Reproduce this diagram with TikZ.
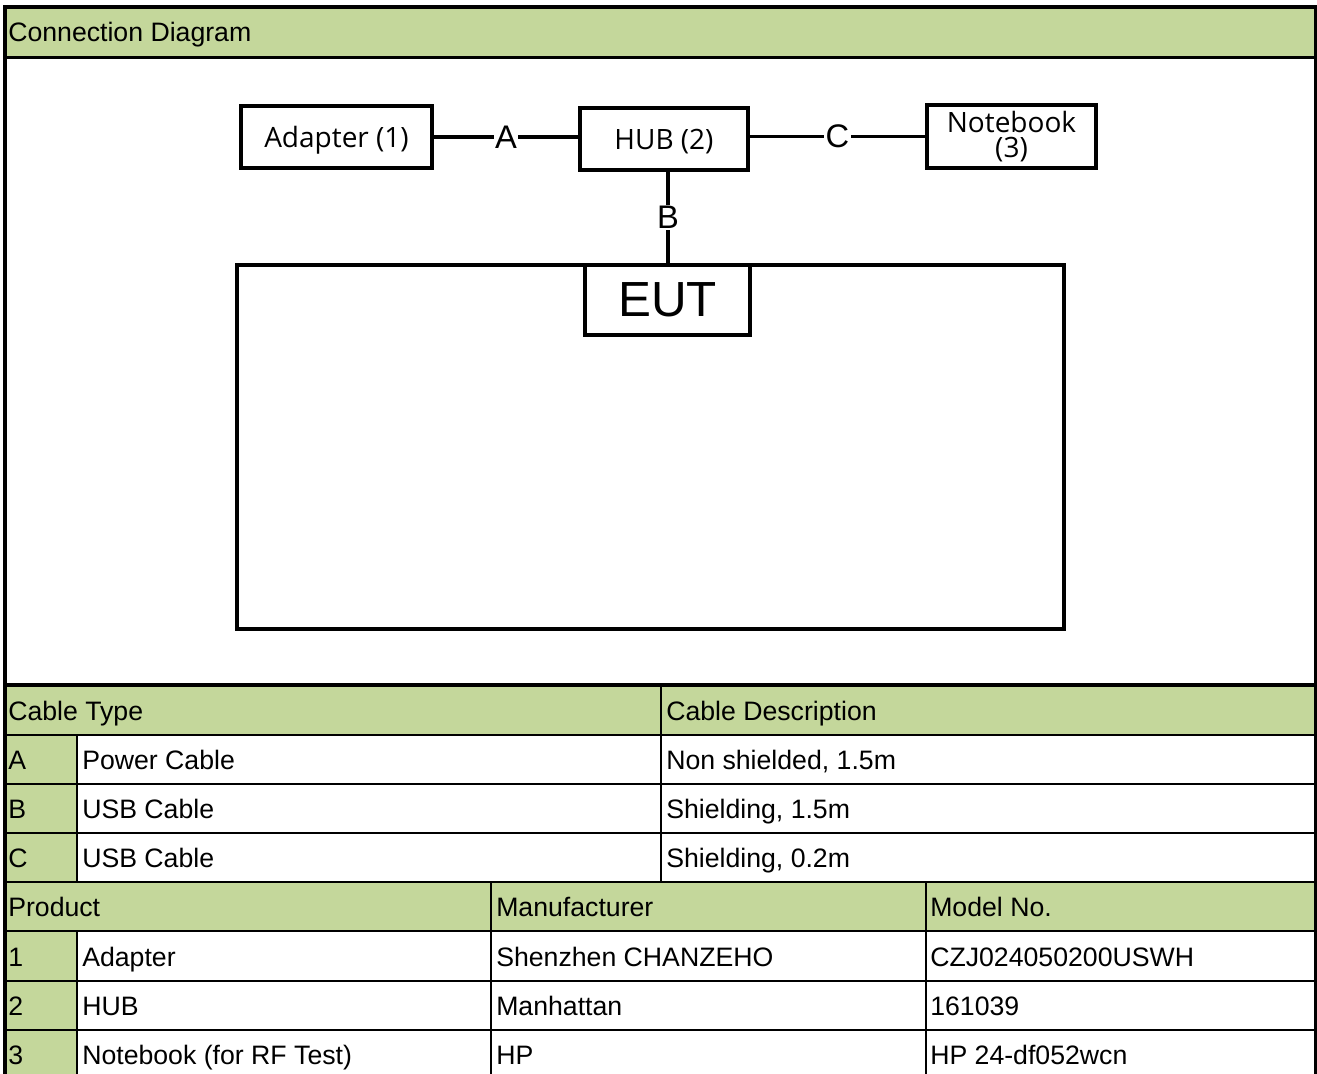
\documentclass[tikz,border=0pt]{standalone}
\usepackage{fontspec}
\setmainfont{Liberation Sans}
\newfontfamily\segoe{Open Sans}
\definecolor{hdr}{HTML}{C4D79B}
\begin{document}
\begin{tikzpicture}[x=0.75pt,y=-0.75pt,
  devbox/.style={draw, line width=3.2pt, inner sep=0pt, align=center, font=\segoe\fontsize{21}{19}\selectfont},
  cable/.style={line width=2.7pt},
  cablbl/.style={fill=white, inner sep=1pt, font=\fontsize{24.5}{24}\selectfont},
  cell/.style={anchor=base west, inner sep=0pt, font=\fontsize{20}{22}\selectfont},
  gridln/.style={line width=1.9pt},
  majorln/.style={line width=2.4pt}]
\useasboundingbox (0,0) rectangle (1317,1074);
% fills
\fill[hdr] (3,7) rectangle (1316,57);
\fill[hdr] (3,685) rectangle (1316,735);
\fill[hdr] (3,735) rectangle (77,882);
\fill[hdr] (3,882) rectangle (1316,931);
\fill[hdr] (3,931) rectangle (77,1074);
% grid
\draw[majorln] (3,7) -- (1317,7);
\draw[majorln] (3,57.5) -- (1316,57.5);
\draw[majorln] (3,685) -- (1316,685);
\foreach \yy in {735,784,833,882,931,981,1030} \draw[gridln] (3,\yy) -- (1316,\yy);
\draw[gridln] (77,735) -- (77,882);
\draw[gridln] (77,931) -- (77,1074);
\draw[gridln] (661,685) -- (661,882);
\draw[gridln] (491,882) -- (491,1074);
\draw[gridln] (926,882) -- (926,1074);
\draw[line width=3pt] (5,5.5) -- (5,1074);
\draw[line width=1.6pt] (1315.5,5.5) -- (1315.5,1074);
% texts
\node[cell] (t0) at (8,42) {Connection Diagram};
\node[cell] (t1) at (8,720) {Cable Type};
\node[cell] (t2) at (666,720) {Cable Description};
\node[cell] (ta) at (8,769) {A};
\node[cell] (ta2) at (82,769) {Power Cable};
\node[cell] (ta3) at (666,769) {Non shielded, 1.5m};
\node[cell] (tb) at (8,818) {B};
\node[cell] (tb2) at (82,818) {USB Cable};
\node[cell] (tb3) at (666,818) {Shielding, 1.5m};
\node[cell] (tc) at (8,867) {C};
\node[cell] (tc2) at (82,867) {USB Cable};
\node[cell] (tc3) at (666,867) {Shielding, 0.2m};
\node[cell] (p0) at (8,916) {Product};
\node[cell] (p1) at (496,916) {Manufacturer};
\node[cell] (p2) at (930,916) {Model No.};
\node[cell] (r1a) at (8,966) {1};
\node[cell] (r1b) at (82,966) {Adapter};
\node[cell] (r1c) at (496,966) {Shenzhen CHANZEHO};
\node[cell] (r1d) at (930,966) {CZJ024050200USWH};
\node[cell] (r2a) at (8,1015) {2};
\node[cell] (r2b) at (82,1015) {HUB};
\node[cell] (r2c) at (496,1015) {Manhattan};
\node[cell] (r2d) at (930,1015) {161039};
\node[cell] (r3a) at (8,1064) {3};
\node[cell] (r3b) at (82,1064) {Notebook (for RF Test)};
\node[cell] (r3c) at (496,1064) {HP};
\node[cell] (r3d) at (930,1064) {HP 24-df052wcn};
% diagram
\node[devbox, minimum width=143.25pt, minimum height=46.5pt, text height=18pt, text depth=3pt] (adapter) at (336.5,137) {Adapter (1)};
\node[devbox, minimum width=126pt, minimum height=46.5pt, text height=18pt, text depth=3pt] (hub) at (664,139) {HUB (2)};
\node[devbox, minimum width=126.75pt, minimum height=47.25pt] (note) at (1011.5,136.5) {Notebook\\(3)};
\node[draw, line width=3.2pt, minimum width=620.25pt, minimum height=273pt, inner sep=0pt] (eutarea) at (650.5,447) {};
\node[draw, line width=3.2pt, minimum width=123.75pt, minimum height=52.5pt, inner sep=0pt, font=\fontsize{37}{37}\selectfont] (eut) at (667.5,300) {EUT};
\coordinate (bx) at (668,0);
\draw[cable] (adapter.east) -- node[cablbl] {A} (adapter.east -| hub.west);
\draw[cable] (note.west -| hub.east) -- node[cablbl] {C} (note.west);
\draw[cable] (hub.south -| bx) -- node[cablbl] {B} (eutarea.north -| bx);
\end{tikzpicture}
\end{document}
